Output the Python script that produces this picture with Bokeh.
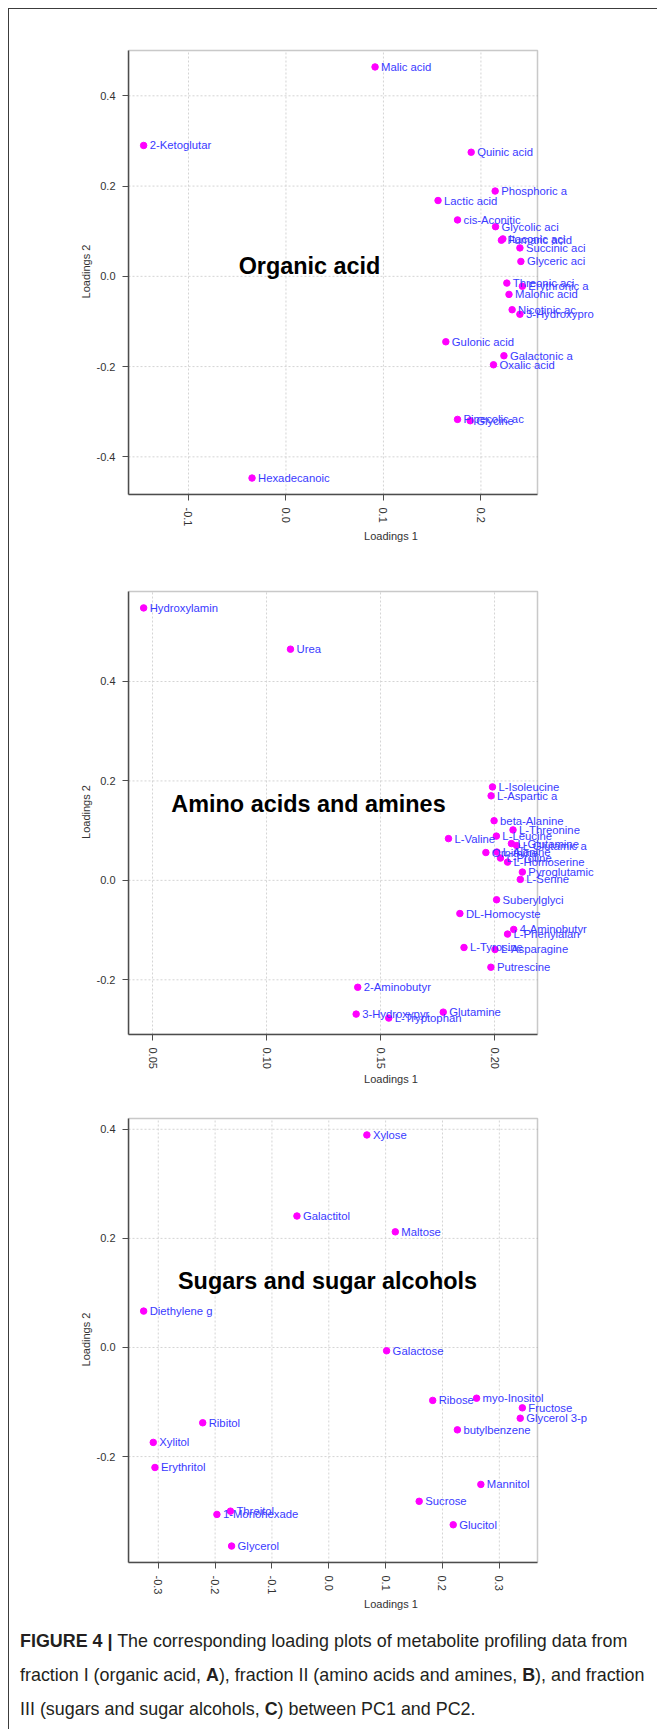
from bokeh.plotting import figure
from bokeh.models import (ColumnDataSource, LabelSet, Label, Range1d, FixedTicker,
                          PrintfTickFormatter, Div, BoxAnnotation)
from bokeh.core.properties import value
from bokeh.layouts import column
from bokeh.embed import file_html
from bokeh.resources import INLINE

# ---------------- data ----------------
# Panel A: organic acids
a_names = ["Malic acid", "2-Ketoglutar", "Quinic acid", "Phosphoric a", "Lactic acid",
           "cis-Aconitic", "Glycolic aci", "Itaconic aci", "Fumaric acid", "Succinic aci",
           "Glyceric aci", "Threonic aci", "Erythronic a", "Malonic acid", "Nicotinic ac",
           "3-Hydroxypro", "Gulonic acid", "Galactonic a", "Oxalic acid", "Pipecolic ac",
           "Glycine", "Hexadecanoic"]
a_pc1 = [0.0914, -0.146, 0.190, 0.2146, 0.156,
         0.176, 0.215, 0.2225, 0.221, 0.240,
         0.241, 0.2266, 0.2425, 0.2288, 0.232,
         0.240, 0.164, 0.2236, 0.2129, 0.176,
         0.189, -0.0348]
a_pc2 = [0.464, 0.290, 0.275, 0.189, 0.168,
         0.125, 0.110, 0.083, 0.080, 0.063,
         0.033, -0.015, -0.022, -0.040, -0.074,
         -0.084, -0.145, -0.176, -0.196, -0.317,
         -0.320, -0.447]
a_xticks = [-0.1, 0.0, 0.1, 0.2]
a_yticks = [-0.4, -0.2, 0.0, 0.2, 0.4]

# Panel B: amino acids and amines
b_names = ["Hydroxylamin", "Urea", "L-Isoleucine", "L-Aspartic a", "beta-Alanine",
           "L-Threonine", "L-Leucine", "L-Valine", "L-Glutamine", "L-Glutamic a",
           "L-Alanine", "Ornithine", "L-Proline", "L-Homoserine", "Pyroglutamic",
           "L-Serine", "Suberylglyci", "DL-Homocyste", "4-Aminobutyr", "L-Phenylalan",
           "L-Tyrosine", "L-Asparagine", "Putrescine", "2-Aminobutyr", "3-Hydroxypyr",
           "L-Tryptophan", "Glutamine"]
b_pc1 = [0.0461, 0.1105, 0.1991, 0.1985, 0.1998,
         0.2081, 0.2008, 0.1798, 0.2074, 0.2097,
         0.2010, 0.1962, 0.2026, 0.2057, 0.2122,
         0.2113, 0.2009, 0.1848, 0.2084, 0.2057,
         0.1866, 0.2002, 0.1984, 0.140, 0.1393,
         0.1536, 0.1775]
b_pc2 = [0.548, 0.465, 0.188, 0.170, 0.120,
         0.1015, 0.089, 0.084, 0.074, 0.070,
         0.057, 0.056, 0.0448, 0.0367, 0.0167,
         0.002, -0.039, -0.0667, -0.0987, -0.108,
         -0.135, -0.139, -0.1747, -0.215, -0.269,
         -0.277, -0.265]
b_xticks = [0.05, 0.10, 0.15, 0.20]
b_yticks = [-0.2, 0.0, 0.2, 0.4]

# Panel C: sugars and sugar alcohols
c_names = ["Xylose", "Galactitol", "Maltose", "Diethylene g", "Galactose",
           "Ribose", "myo-Inositol", "Fructose", "Glycerol 3-p", "butylbenzene",
           "Ribitol", "Xylitol", "Erythritol", "Mannitol", "Sucrose",
           "Threitol", "1-Monohexade", "Glucitol", "Glycerol"]
c_pc1 = [0.067, -0.056, 0.117, -0.3257, 0.1017,
         0.1828, 0.260, 0.3405, 0.3368, 0.2262,
         -0.2218, -0.3088, -0.3058, 0.2675, 0.159,
         -0.173, -0.1968, 0.2189, -0.171]
c_pc2 = [0.3896, 0.241, 0.212, 0.0667, -0.006,
         -0.097, -0.093, -0.1107, -0.1297, -0.151,
         -0.138, -0.174, -0.220, -0.251, -0.282,
         -0.300, -0.306, -0.325, -0.364]
c_xticks = [-0.3, -0.2, -0.1, 0.0, 0.1, 0.2, 0.3]
c_yticks = [-0.2, 0.0, 0.2, 0.4]

# ---------------- style ----------------
FONT = "Liberation Sans"
POINT_COLOR = "#ff00ff"
TEXT_COLOR = "#3a3aff"
FRAME_COLOR = "#4d4d4d"
GRID_COLOR = "#d4d4d4"
BOX_W = 409          # width of the plotting box
RIGHT_SPACE = 116    # room on the right for labels that run past the box
BORDER_L = 119
TOP_PAD = 2          # frame starts a little above the box so its top line is not clipped


def pad_range(vals):
    lo, hi = min(vals), max(vals)
    d = (hi - lo) * 0.04
    return lo - d, hi + d


def make_panel(names, xs, ys, xticks, yticks, xfmt, letter, title,
               box_h, b_top, b_bottom, letter_dy, title_dx, title_dy):
    x0, x1 = pad_range(xs)
    y0, y1 = pad_range(ys)
    sx = (x1 - x0) / BOX_W
    sy = (y1 - y0) / box_h
    p = figure(frame_width=BOX_W + RIGHT_SPACE, frame_height=box_h + TOP_PAD,
               min_border_left=BORDER_L, min_border_right=0,
               min_border_top=b_top - TOP_PAD, min_border_bottom=b_bottom,
               x_range=Range1d(x0, x1 + RIGHT_SPACE * sx),
               y_range=Range1d(y0, y1 + TOP_PAD * sy),
               output_backend="svg", toolbar_location=None, tools="",
               background_fill_color="white", border_fill_color="white")
    p.outline_line_color = None
    p.xgrid.visible = False
    p.ygrid.visible = False

    # dotted grid inside the box only
    p.segment(x0=xticks, x1=xticks, y0=[y0] * len(xticks), y1=[y1] * len(xticks),
              line_color=GRID_COLOR, line_dash="2 2", line_width=1, level="underlay")
    p.segment(x0=[x0] * len(yticks), x1=[x1] * len(yticks), y0=yticks, y1=yticks,
              line_color=GRID_COLOR, line_dash="2 2", line_width=1, level="underlay")

    # the plot box
    p.add_layout(BoxAnnotation(left=x0, right=x1, bottom=y0, top=y1,
                               fill_alpha=0, fill_color=None,
                               line_color=FRAME_COLOR, line_width=1.5))

    p.xaxis.ticker = FixedTicker(ticks=xticks)
    p.yaxis.ticker = FixedTicker(ticks=yticks)
    p.xaxis.bounds = (x0, x1)
    p.yaxis.bounds = (y0, y1)
    p.xaxis.formatter = PrintfTickFormatter(format=xfmt)
    p.yaxis.formatter = PrintfTickFormatter(format="%.1f")
    p.xaxis.axis_label = "Loadings 1"
    p.yaxis.axis_label = "Loadings 2"
    p.xaxis.major_label_orientation = "vertical"
    for ax in (p.xaxis, p.yaxis):
        ax.axis_line_color = FRAME_COLOR
        ax.axis_line_width = 1.5
        ax.major_tick_line_color = FRAME_COLOR
        ax.major_tick_out = 6
        ax.major_tick_in = 0
        ax.minor_tick_line_color = None
        ax.major_label_text_font = FONT
        ax.major_label_text_font_size = "11px"
        ax.major_label_text_color = "#333333"
        ax.major_label_standoff = 7
        ax.axis_label_text_font = FONT
        ax.axis_label_text_font_size = "11px"
        ax.axis_label_text_font_style = "normal"
        ax.axis_label_text_color = "#333333"
    p.xaxis.axis_label_standoff = 1
    p.yaxis.axis_label_standoff = 2

    src = ColumnDataSource(dict(x=xs, y=ys, name=names))
    p.scatter("x", "y", source=src, size=6.5, fill_color=POINT_COLOR,
              line_color=POINT_COLOR)
    p.add_layout(LabelSet(x="x", y="y", text="name", source=src, x_offset=6,
                          text_baseline="middle", text_align="left",
                          text_font=value(FONT), text_font_size=value("11.3px"),
                          text_color=TEXT_COLOR))

    p.add_layout(Label(x=x0 - 42 * sx, y=y1 - letter_dy * sy, text=letter,
                       text_align="center", text_baseline="middle",
                       text_font=FONT, text_font_size="19px",
                       text_font_style="bold", text_color="black"))
    p.add_layout(Label(x=x0 + title_dx * sx, y=y1 - title_dy * sy, text=title,
                       text_align="center", text_baseline="middle",
                       text_font=FONT, text_font_size="23.4px",
                       text_font_style="bold", text_color="black"))
    return p


pA = make_panel(a_names, a_pc1, a_pc2, a_xticks, a_yticks, "%.1f", "A", "Organic acid",
                444, 41, 66, 9, 181, 215)
pB = make_panel(b_names, b_pc1, b_pc2, b_xticks, b_yticks, "%.2f", "B",
                "Amino acids and amines", 443, 31, 56, 6, 180, 212)
pC = make_panel(c_names, c_pc1, c_pc2, c_xticks, c_yticks, "%.1f", "C",
                "Sugars and sugar alcohols", 444, 28, 57, 2, 199, 162)

cap_html = (
    '<div style="font-family:\'Liberation Sans\',Arial,sans-serif;'
    'font-size:17.9px;line-height:34px;color:#231f20;padding:0 0 0 6px;white-space:nowrap;">'
    '<b>FIGURE 4 |</b> The corresponding loading plots of metabolite profiling data from<br>'
    'fraction I (organic acid, <b>A</b>), fraction II (amino acids and amines, <b>B</b>), and fraction<br>'
    'III (sugars and sugar alcohols, <b>C</b>) between PC1 and PC2.</div>'
)
cap = Div(text=cap_html, width=644, height=103)

layout = column(pA, pB, pC, cap, spacing=0,
                styles={"border": "1px solid #3c3c3c", "margin": "8px 0 0 8px"})

open("out.html", "w").write(file_html(layout, INLINE))
